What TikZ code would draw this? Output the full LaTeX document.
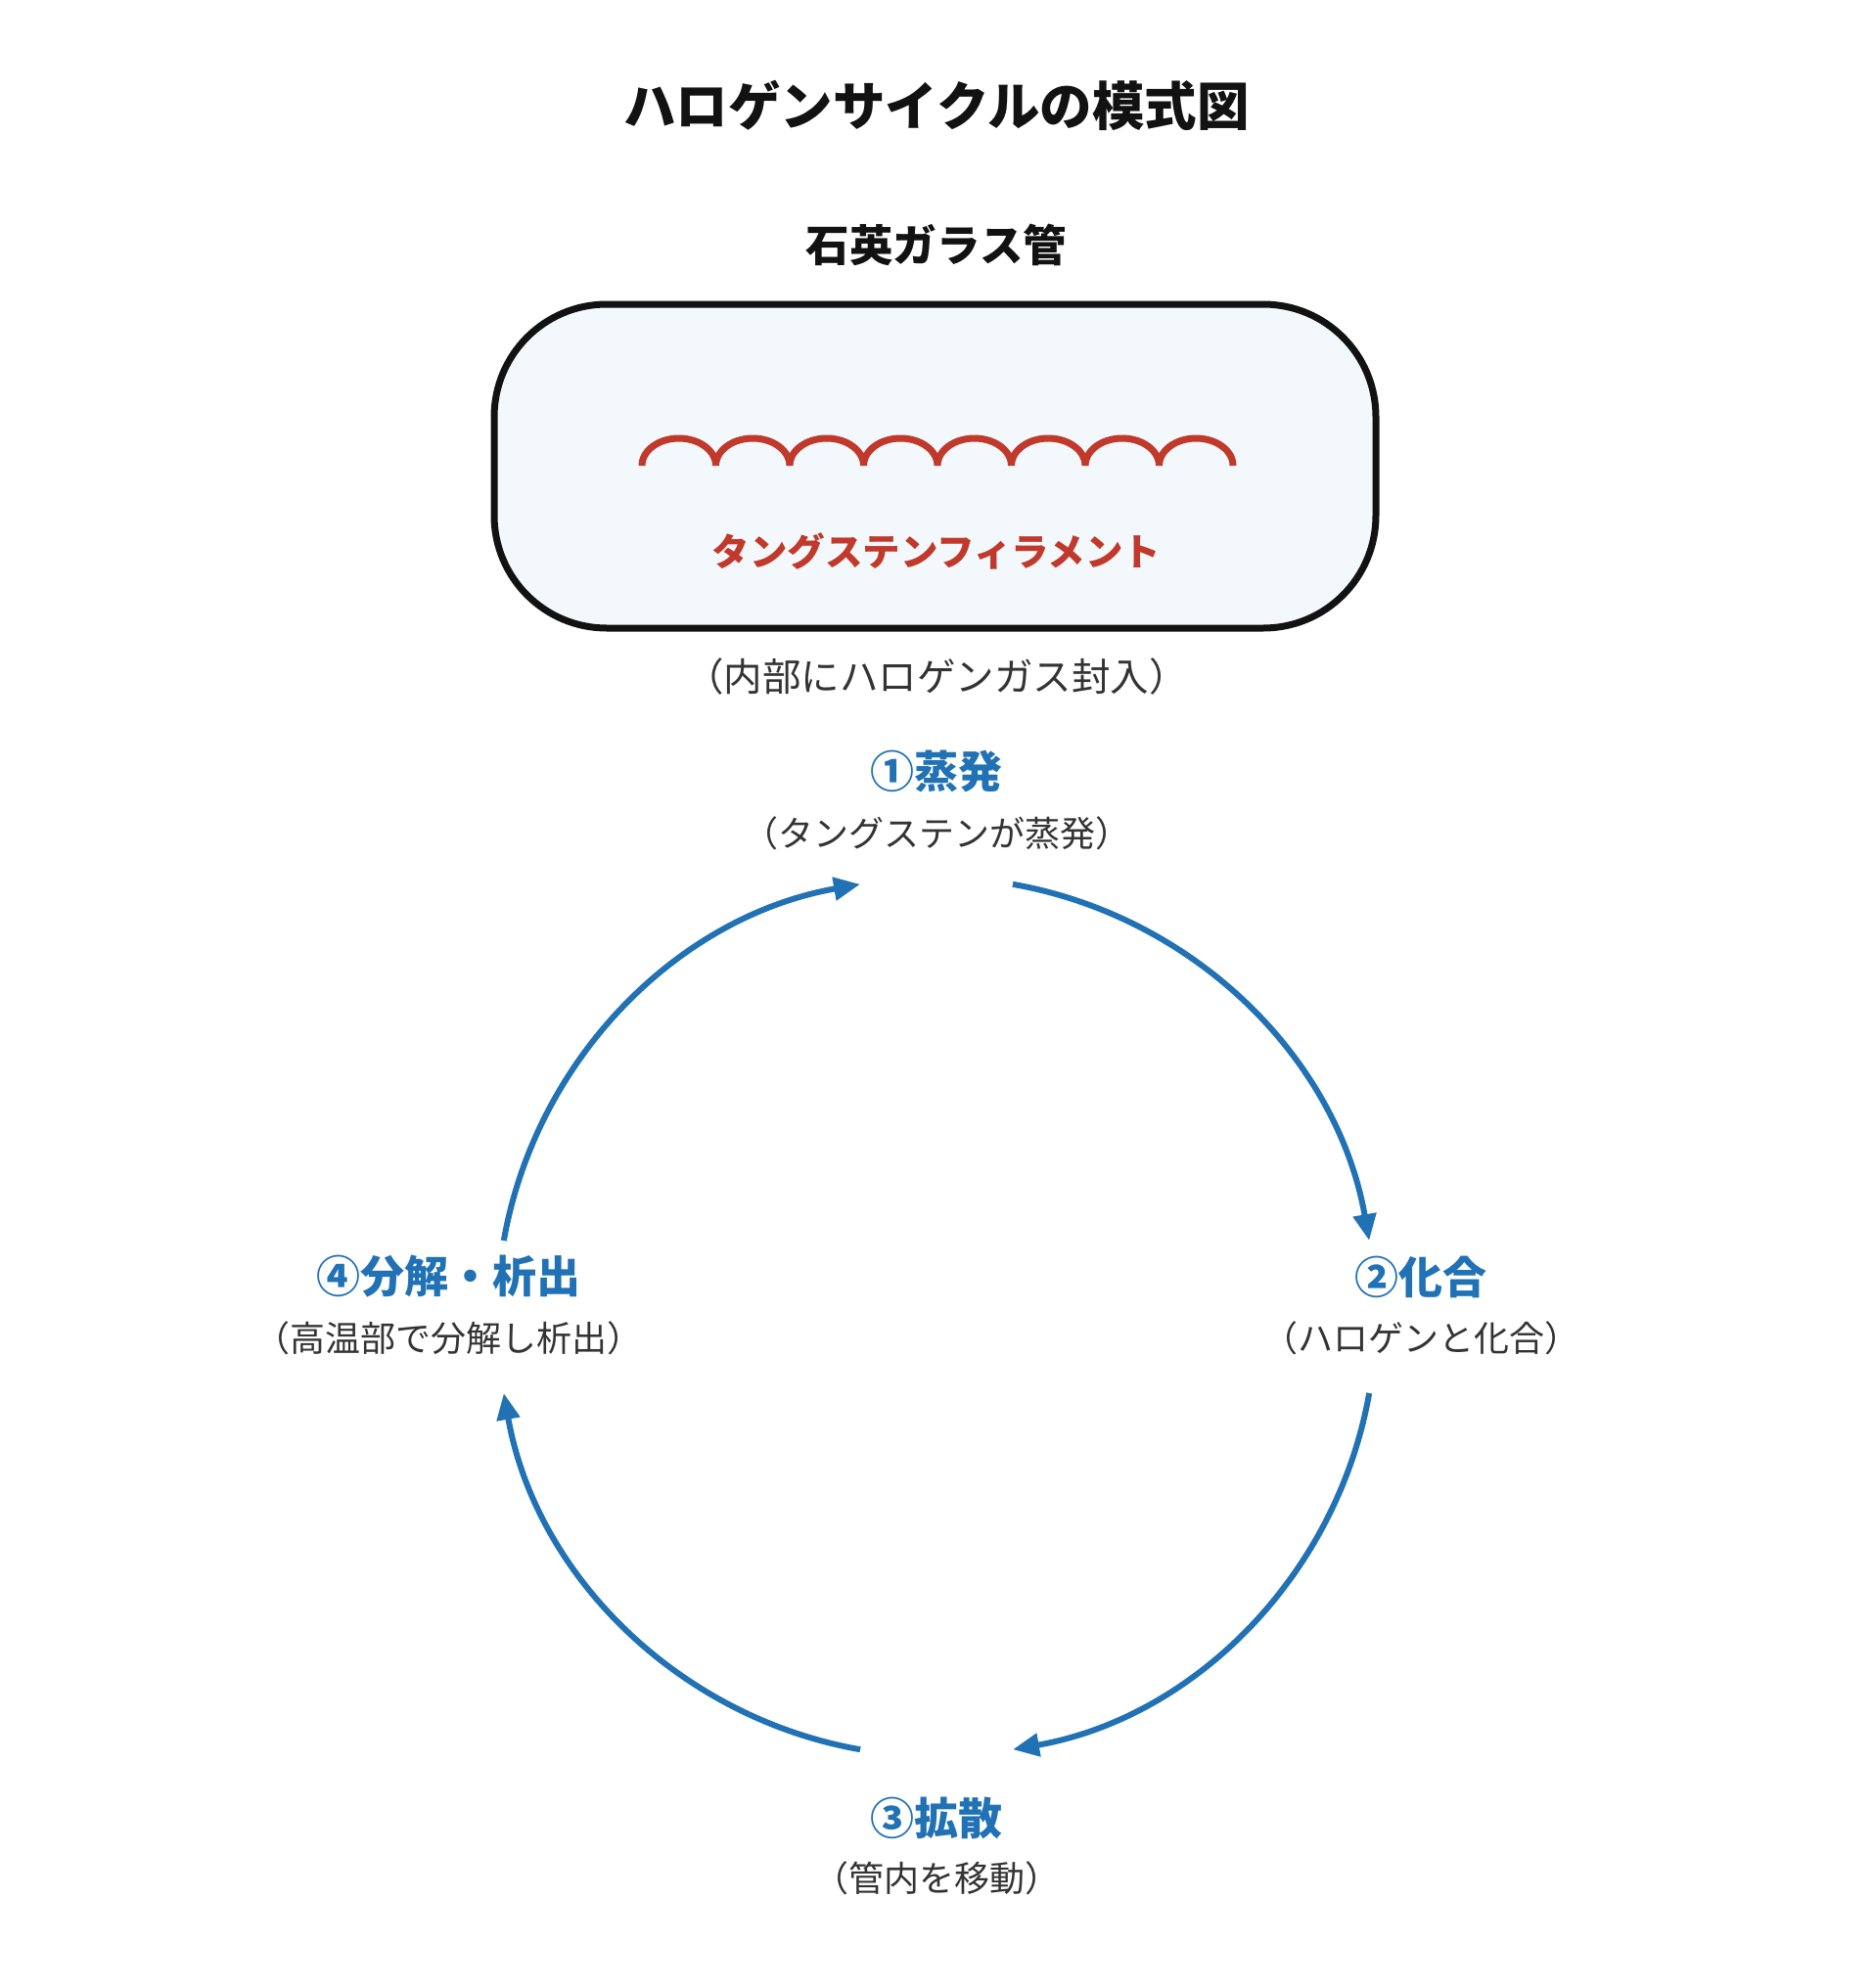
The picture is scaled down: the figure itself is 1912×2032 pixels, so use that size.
\documentclass[tikz,border=0pt]{standalone}
\usepackage{fontspec}
\setmainfont{Noto Sans CJK JP}
\usetikzlibrary{arrows.meta}
\definecolor{cycblue}{RGB}{33,113,181}
\definecolor{filred}{RGB}{192,57,43}
\definecolor{txtdark}{RGB}{51,51,51}
\definecolor{tubefill}{RGB}{243,248,253}
\tikzset{
  titletext/.style={font=\fontsize{53.5}{62}\selectfont\bfseries, text=black!93},
  subtitle/.style={font=\fontsize{44.5}{52}\selectfont\bfseries, text=black!93},
  steplabel/.style={font=\fontsize{45}{52}\selectfont\bfseries, text=cycblue},
  stepnote/.style={font=\fontsize{36}{42}\selectfont, text=txtdark},
  tubebox/.style={draw=black!93, line width=7pt, fill=tubefill, rounded corners=115pt},
  cyclearrow/.style={draw=cycblue, line width=6pt, -{Triangle[length=27pt,width=23pt]}},
  filament/.style={draw=filred, line width=7pt},
}
\begin{document}
\begin{tikzpicture}[x=1pt,y=-1pt]
\useasboundingbox (0,0) rectangle (1912,2032);
\node[titletext] (title) at (957,108) {ハロゲンサイクルの模式図};
\node[subtitle] (tubetitle) at (957,250) {石英ガラス管};
\draw[tubebox] (505,311) rectangle (1406,642);
\draw[filament] (656,476)
  arc[start angle=180,end angle=0,x radius=37.75pt,y radius=28pt]
  arc[start angle=180,end angle=0,x radius=37.75pt,y radius=28pt]
  arc[start angle=180,end angle=0,x radius=37.75pt,y radius=28pt]
  arc[start angle=180,end angle=0,x radius=37.75pt,y radius=28pt]
  arc[start angle=180,end angle=0,x radius=37.75pt,y radius=28pt]
  arc[start angle=180,end angle=0,x radius=37.75pt,y radius=28pt]
  arc[start angle=180,end angle=0,x radius=37.75pt,y radius=28pt]
  arc[start angle=180,end angle=0,x radius=37.75pt,y radius=28pt];
\node[font=\fontsize{38.5}{45}\selectfont\bfseries, text=filred] (filname) at (957,564) {タングステンフィラメント};
\node[font=\fontsize{39.5}{46}\selectfont, text=txtdark] (gasnote) at (957,691) {（内部にハロゲンガス封入）};

\node[steplabel] (s1) at (957,788) {①蒸発};
\node[stepnote] (n1) at (957,852) {（タングステンが蒸発）};
\node[steplabel] (s2) at (1452,1305) {②化合};
\node[stepnote] (n2) at (1452,1368) {（ハロゲンと化合）};
\node[steplabel] (s3) at (957,1858) {③拡散};
\node[stepnote] (n3) at (957,1920) {（管内を移動）};
\node[steplabel] (s4) at (458,1305) {④分解・析出};
\node[stepnote] (n4) at (458,1368) {（高温部で分解し析出）};

\coordinate (c) at (957,1346);
\draw[cyclearrow] ([shift={(80:449pt)}]c) arc[start angle=80,end angle=10,radius=449pt];
\draw[cyclearrow] ([shift={(-10:449pt)}]c) arc[start angle=-10,end angle=-80,radius=449pt];
\draw[cyclearrow] ([shift={(-100:449pt)}]c) arc[start angle=-100,end angle=-170,radius=449pt];
\draw[cyclearrow] ([shift={(170:449pt)}]c) arc[start angle=170,end angle=100,radius=449pt];
\end{tikzpicture}
\end{document}
